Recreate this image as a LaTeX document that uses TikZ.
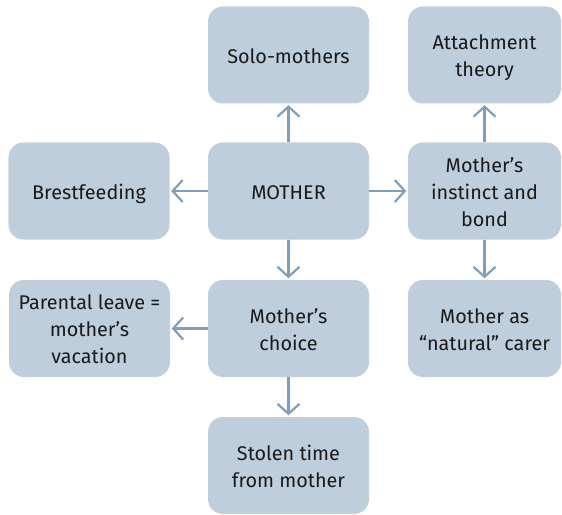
\documentclass[tikz,border=0pt]{standalone}
\usepackage{fontspec}
\setmainfont{Fira Sans}
\usetikzlibrary{arrows.meta}
\definecolor{boxfill}{RGB}{190,206,221}
\definecolor{arrowc}{RGB}{128,158,186}
\definecolor{txt}{RGB}{25,25,25}
\newcommand{\boxtext}[1]{\raisebox{0pt}[\dimexpr\height+6bp\relax][\depth]{\begin{tabular}{@{}c@{}}#1\end{tabular}}}
\tikzset{
  mbox/.style={fill=boxfill, draw=none, rounded corners=15bp, minimum width=161bp, minimum height=97bp,
    align=center, text=txt, font=\fontsize{19.8bp}{27bp}\selectfont, inner sep=0pt},
  rbox/.style={mbox, minimum width=153bp},
  conn/.style={draw=arrowc, line width=2.2bp, -{Straight Barb[length=10bp,width=22bp,line width=2.2bp]}, shorten >=1.5bp}
}
\begin{document}
\begin{tikzpicture}[x=1bp,y=-1bp]
\useasboundingbox (0,0) rectangle (562,515);
\node[mbox] (solo) at (288.5,55) {\boxtext{Solo-mothers}};
\node[rbox] (attach) at (484.5,55) {\boxtext{Attachment\\theory}};
\node[mbox] (brest) at (89,191) {\boxtext{Brestfeeding}};
\node[mbox] (mother) at (288.5,191) {\boxtext{MOTHER}};
\node[rbox] (instinct) at (484.5,191) {\boxtext{Mother’s\\instinct and\\bond}};
\node[mbox] (parental) at (89.5,328.5) {\boxtext{Parental leave =\\mother’s\\vacation}};
\node[mbox] (choice) at (288.5,328.5) {\boxtext{Mother’s\\choice}};
\node[rbox] (natural) at (484.5,328.5) {\boxtext{Mother as\\“natural” carer}};
\node[mbox] (stolen) at (288.5,465.5) {\boxtext{Stolen time\\from mother}};
\draw[conn] (mother) -- (solo);
\draw[conn] (mother) -- (brest);
\draw[conn] (mother) -- (instinct.west |- mother);
\draw[conn] (mother) -- (choice);
\draw[conn] (choice) -- (parental);
\draw[conn] (choice) -- (stolen);
\draw[conn] (instinct) -- (attach);
\draw[conn] (instinct) -- (natural);
\end{tikzpicture}
\end{document}
